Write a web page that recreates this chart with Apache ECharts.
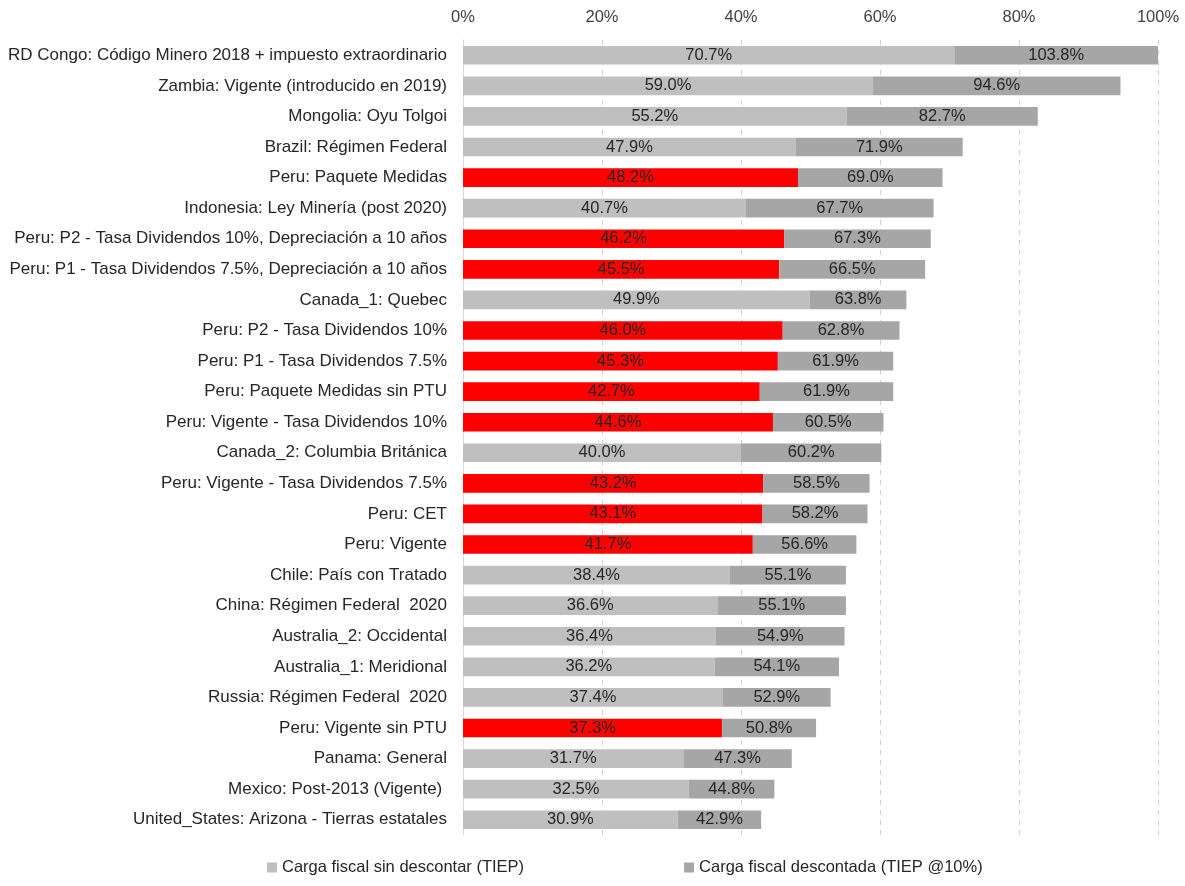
<!DOCTYPE html>
<html>
<head>
<meta charset="utf-8">
<script src="https://cdn.jsdelivr.net/npm/echarts@6/dist/echarts.min.js"></script>
<style>html,body{margin:0;padding:0;background:#fff}#c{width:1185px;height:886px}</style>
</head>
<body>
<div id="c"></div>
<script>
var categories = [
  "RD Congo: Código Minero 2018 + impuesto extraordinario",
  "Zambia: Vigente (introducido en 2019)",
  "Mongolia: Oyu Tolgoi",
  "Brazil: Régimen Federal",
  "Peru: Paquete Medidas",
  "Indonesia: Ley Minería (post 2020)",
  "Peru: P2 - Tasa Dividendos 10%, Depreciación a 10 años",
  "Peru: P1 - Tasa Dividendos 7.5%, Depreciación a 10 años",
  "Canada_1: Quebec",
  "Peru: P2 - Tasa Dividendos 10%",
  "Peru: P1 - Tasa Dividendos 7.5%",
  "Peru: Paquete Medidas sin PTU",
  "Peru: Vigente - Tasa Dividendos 10%",
  "Canada_2: Columbia Británica",
  "Peru: Vigente - Tasa Dividendos 7.5%",
  "Peru: CET",
  "Peru: Vigente",
  "Chile: País con Tratado",
  "China: Régimen Federal  2020",
  "Australia_2: Occidental",
  "Australia_1: Meridional",
  "Russia: Régimen Federal  2020",
  "Peru: Vigente sin PTU",
  "Panama: General",
  "Mexico: Post-2013 (Vigente) ",
  "United_States: Arizona - Tierras estatales"
];
var sinDescontar = [70.7,59.0,55.2,47.9,48.2,40.7,46.2,45.5,49.9,46.0,45.3,42.7,44.6,40.0,43.2,43.1,41.7,38.4,36.6,36.4,36.2,37.4,37.3,31.7,32.5,30.9];
var descontada = [103.8,94.6,82.7,71.9,69.0,67.7,67.3,66.5,63.8,62.8,61.9,61.9,60.5,60.2,58.5,58.2,56.6,55.1,55.1,54.9,54.1,52.9,50.8,47.3,44.8,42.9];
var xTicks = [0,20,40,60,80,100];

var FONT = "'Liberation Sans', Arial, sans-serif";
var FS = 16.5;
var LIGHT = '#bfbfbf', DARK = '#a6a6a6', RED = '#ff0000', TXT = '#262626';

var lightData = sinDescontar.map(function(v,i){
  return categories[i].indexOf('Peru') === 0 ? {value:v, itemStyle:{color:RED}} : v;
});
var darkRest = descontada.map(function(v,i){ return +(v - sinDescontar[i]).toFixed(1); });

var chart = echarts.init(document.getElementById('c'), null, {renderer:'canvas'});
chart.setOption({
  animation:false,
  textStyle:{fontFamily:FONT},
  grid:{left:463, right:27, top:40, bottom:51, containLabel:false},
  legend:{
    bottom:5, left:262, itemGap:160, itemWidth:10, itemHeight:10,
    icon:'rect',
    textStyle:{fontFamily:FONT, fontSize:FS, color:TXT},
    data:['Carga fiscal sin descontar (TIEP)','Carga fiscal descontada (TIEP @10%)']
  },
  xAxis:{
    type:'value', position:'top', min:0, max:100, interval:20,
    axisLine:{show:false}, axisTick:{show:false},
    axisLabel:{formatter:function(v){return v+'%';}, fontFamily:FONT, fontSize:FS, color:'#404040', margin:14},
    splitLine:{show:true, lineStyle:{type:[5,5], color:'#d0d0d0', width:1}}
  },
  yAxis:{
    type:'category', inverse:true, data:categories,
    axisLine:{show:true, lineStyle:{color:'#d9d9d9'}}, axisTick:{show:false},
    axisLabel:{fontFamily:FONT, fontSize:17, color:TXT, margin:16}
  },
  series:[
    {
      name:'Carga fiscal sin descontar (TIEP)', type:'bar', stack:'a',
      barCategoryGap:'39%', data:lightData,
      itemStyle:{color:LIGHT},
      label:{show:true, position:'inside', fontFamily:FONT, fontSize:FS, color:TXT,
        formatter:function(p){return sinDescontar[p.dataIndex].toFixed(1)+'%';}}
    },
    {
      name:'Carga fiscal descontada (TIEP @10%)', type:'bar', stack:'a',
      barCategoryGap:'39%', data:darkRest,
      itemStyle:{color:DARK},
      label:{show:true, position:'inside', fontFamily:FONT, fontSize:FS, color:TXT,
        formatter:function(p){return descontada[p.dataIndex].toFixed(1)+'%';}}
    }
  ]
});
</script>
</body>
</html>
